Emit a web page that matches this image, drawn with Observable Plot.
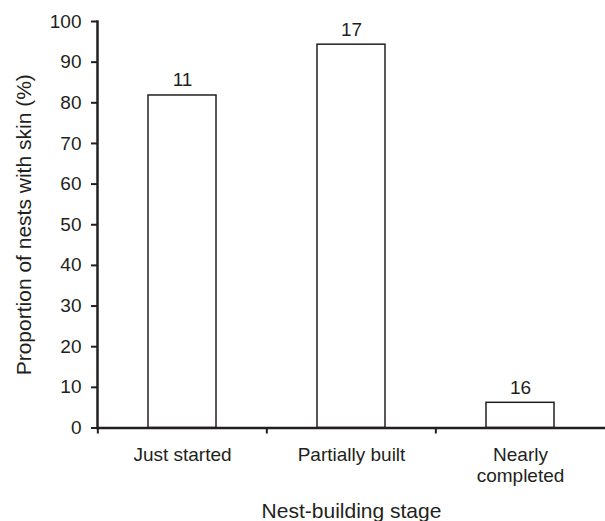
<!DOCTYPE html>
<html><head><meta charset="utf-8">
<script src="https://cdn.jsdelivr.net/npm/d3@7"></script>
<script src="https://cdn.jsdelivr.net/npm/@observablehq/plot@0.6"></script>
<style>
body{margin:0;background:#fff}
svg{font-family:"Liberation Sans",Arial,sans-serif}
</style>
</head><body><div id="chart"></div>
<script>
const stages = ["Just started", "Partially built", "Nearly completed"];
const stageLabels = ["Just started", "Partially built", "Nearly\ncompleted"];
const proportions = [81.8, 94.3, 6.2];
const sampleSizes = [11, 17, 16];
const yTicks = [0, 10, 20, 30, 40, 50, 60, 70, 80, 90, 100];
const yTitle = "Proportion of nests with skin (%)";
const xTitle = "Nest-building stage";

const data = stages.map((s, i) => ({stage: s, label: stageLabels[i], value: proportions[i], n: sampleSizes[i]}));
const ink = "#231f20";
const fs = 19;
const titleFs = 21;
const W = 605, mL = 97, mR = 0;
const step = (W - mL - mR) / stages.length;

const chart = Plot.plot({
  width: W, height: 521,
  marginLeft: mL, marginTop: 21, marginBottom: 93.5, marginRight: mR,
  style: {fontFamily: '"Liberation Sans", Arial, sans-serif', fontSize: fs + "px", color: ink, background: "white", overflow: "visible"},
  x: {domain: stages, paddingInner: 0.595, paddingOuter: 0.2975},
  y: {domain: [0, 100]},
  marks: [
    Plot.barY(data, {x: "stage", y: "value", fill: "white", stroke: ink, strokeWidth: 1.5}),
    Plot.axisY({ticks: yTicks, tickSize: 6, tickPadding: 10, stroke: ink, strokeWidth: 2, fill: ink, fontSize: fs,
      label: null}),
    Plot.axisY({ticks: [], label: yTitle, labelAnchor: "center", labelArrow: "none", labelOffset: 81, fontSize: titleFs, fill: ink}),
    Plot.frame({anchor: "left", stroke: ink, strokeWidth: 2.5}),
    Plot.axisX({tickSize: 6, tickFormat: () => "", dx: -step / 2, stroke: ink, strokeWidth: 2, label: null}),
    Plot.axisX({tickSize: 0, tickPadding: 17, tickFormat: (d) => stageLabels[stages.indexOf(d)], lineHeight: 1.15, fill: ink, fontSize: fs, label: null}),
    Plot.ruleY([0], {stroke: ink, strokeWidth: 2.5}),
    Plot.text(data, {x: "stage", y: "value", text: "n", lineAnchor: "bottom", dy: -9, fill: ink, fontSize: fs}),
    Plot.text([xTitle], {x: () => stages[1], frameAnchor: "bottom", lineAnchor: "bottom", dy: 89.5, fill: ink, fontSize: titleFs})
  ]
});
document.getElementById("chart").append(chart);
</script>
</body></html>
